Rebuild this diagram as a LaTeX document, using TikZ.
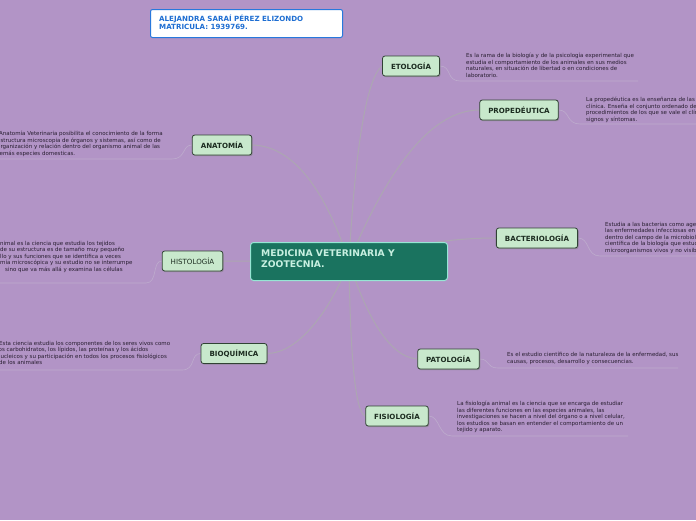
\documentclass[tikz,border=0pt]{standalone}
\usepackage{fontspec}
\setmainfont{DejaVu Sans}
\usetikzlibrary{shadows}
\pgfdeclarelayer{bglayer}
\pgfdeclarelayer{connlayer}
\pgfsetlayers{bglayer,connlayer,main}
\definecolor{bgc}{RGB}{178,148,198}
\definecolor{subfill}{RGB}{200,232,204}
\definecolor{subdraw}{RGB}{48,66,52}
\definecolor{subtext}{RGB}{28,44,32}
\definecolor{cenfill}{RGB}{26,115,95}
\definecolor{cendraw}{RGB}{150,230,212}
\definecolor{centext}{RGB}{200,240,225}
\definecolor{titdraw}{RGB}{40,120,220}
\definecolor{tittext}{RGB}{30,110,210}
\definecolor{desctext}{RGB}{40,30,48}
\definecolor{conncol}{RGB}{172,166,178}
\definecolor{ulcol}{RGB}{190,172,205}
\begin{document}
\begin{tikzpicture}[x=1pt,y=-1pt,
  sub/.style={draw=subdraw, fill=subfill, line width=0.8pt, rounded corners=2.5pt,
    text=subtext, font=\fontsize{7.1}{8}\selectfont\bfseries, inner xsep=8.5pt,
    minimum height=20pt, inner ysep=0pt,
    drop shadow={opacity=0.55, shadow xshift=1pt, shadow yshift=-1.2pt}},
  desc/.style={font=\fontsize{5.5}{6.5}\selectfont, align=left, anchor=north west,
    inner sep=0pt, text=desctext},
  conn/.style={draw=conncol, line width=1pt},
  uline/.style={draw=ulcol, line width=0.6pt}]
\begin{pgfonlayer}{bglayer}
\fill[bgc] (0,0) rectangle (696,520);
\end{pgfonlayer}
\useasboundingbox (0,0) rectangle (696,520);
\clip (0,0) rectangle (696,520);

% title
\node[draw=titdraw, fill=white, line width=1pt, rounded corners=2pt,
  minimum width=192pt, minimum height=28pt, anchor=north west, inner sep=0pt] (title) at (150,9) {};
\node[anchor=north west, inner sep=0pt, align=left, text=tittext,
  font=\fontsize{7.1}{8.2}\selectfont\bfseries] (titletext) at (159,14.5)
  {ALEJANDRA SARAÍ PÉREZ ELIZONDO\\MATRICULA: 1939769.};

% central
\node[draw=cendraw, fill=cenfill, line width=1pt, rounded corners=3pt,
  minimum width=197pt, minimum height=38pt, anchor=north west, inner sep=0pt] (center) at (250,242) {};
\node[anchor=north west, inner sep=0pt, align=left, text=centext,
  font=\fontsize{9.2}{11.8}\selectfont\bfseries] (centertext) at (261,249)
  {MEDICINA VETERINARIA Y\\ZOOTECNIA.};

% subtopics
\node[sub] (eto) at (411,66) {ETOLOGÍA};
\node[sub] (prop) at (519,110) {PROPEDÉUTICA};
\node[sub] (anat) at (222,145) {ANATOMÍA};
\node[sub, font=\fontsize{7.1}{8}\selectfont] (hist) at (192.5,261) {HISTOLOGÍA};
\node[sub] (bact) at (537,238) {BACTERIOLOGÍA};
\node[sub] (bioq) at (234,353.5) {BIOQUÍMICA};
\node[sub] (pato) at (448.5,359) {PATOLOGÍA};
\node[sub] (fisi) at (397,416) {FISIOLOGÍA};

% descriptions
\node[desc] (etod) at (466,53) {Es la rama de la biología y de la psicología experimental que\\
estudia el comportamiento de los animales en sus medios\\
naturales, en situación de libertad o en condiciones de\\
laboratorio.};
\node[desc] (propd) at (586,97) {La propedéutica es la enseñanza de las maniobras\\
clínica. Enseña el conjunto ordenado de métodos y\\
procedimientos de los que se vale el clínico para\\
signos y síntomas.};
\node[desc] (anatd) at (-1,131) {Anatomía Veterinaria posibilita el conocimiento de la forma\\
\hspace*{-2pt}estructura microscopia de órganos y sistemas, así como de\\
\hspace*{-2pt}organización y relación dentro del organismo animal de las\\
\hspace*{-3pt}demás especies domesticas.};
\node[desc] (histd) at (0,241) {nimal es la ciencia que estudia los tejidos\\
de su estructura es de tamaño muy pequeño\\
llo y sus funciones que se identifica a veces\\
mía microscópica y su estudio no se interrumpe\\
\hspace*{5pt}sino que va más allá y examina las células};
\node[desc] (bactd) at (605,222) {Estudia a las bacterias como agentes\\
las enfermedades infecciosas en\\
dentro del campo de la microbiología\\
científica de la biología que estudia\\
microorganismos vivos y no visibles};
\node[desc] (bioqd) at (-1,341) {Esta ciencia estudia los componentes de los seres vivos como\\
\hspace*{-2pt}los carbohidratos, los lípidos, las proteínas y los ácidos\\
\hspace*{-2pt}nucleicos y su participación en todos los procesos fisiológicos\\
de los animales};
\node[desc] (patod) at (507,352) {Es el estudio científico de la naturaleza de la enfermedad, sus\\
causas, procesos, desarrollo y consecuencias.};
\node[desc] (fisid) at (457,401) {La fisiología animal es la ciencia que se encarga de estudiar\\
las diferentes funciones en las especies animales, las\\
investigaciones se hacen a nivel del órgano o a nivel celular,\\
los estudios se basan en entender el comportamiento de un\\
tejido y aparato.};

% underline coordinates
\coordinate (etou1) at (460,81); \coordinate (etou2) at (638,81);
\coordinate (propu1) at (580,124); \coordinate (propu2) at (696,124);
\coordinate (anatu1) at (172,159); \coordinate (anatu2) at (0,159);
\coordinate (histu1) at (146,283); \coordinate (histu2) at (0,283);
\coordinate (bactu1) at (600,256); \coordinate (bactu2) at (696,256);
\coordinate (bioqu1) at (182,370); \coordinate (bioqu2) at (0,370);
\coordinate (patou1) at (498,368); \coordinate (patou2) at (678,368);
\coordinate (fisiu1) at (452,436); \coordinate (fisiu2) at (628,436);

\begin{pgfonlayer}{connlayer}
\draw[conn] (center.center) .. controls (354,170) and (364,80) .. (eto.west);
\draw[conn] (center.center) .. controls (375,200) and (420,110) .. (prop.west);
\draw[conn] (center.center) .. controls (330,205) and (300,146) .. (anat.east);
\draw[conn] (center.center) -- (hist.east);
\draw[conn] (center.center) .. controls (420,240) and (470,238) .. (bact.west);
\draw[conn] (center.center) .. controls (330,312) and (298,353) .. (bioq.east);
\draw[conn] (center.center) .. controls (365,312) and (388,357) .. (pato.west);
\draw[conn] (center.center) .. controls (350,330) and (353,412) .. (fisi.west);

\draw[uline] (eto.east) .. controls (452,66) and (446,81) .. (etou1) -- (etou2);
\draw[uline] (prop.east) .. controls (570,110) and (566,124) .. (propu1) -- (propu2);
\draw[uline] (anat.west) .. controls (182,145) and (186,159) .. (anatu1) -- (anatu2);
\draw[uline] (hist.west) .. controls (152,261) and (158,283) .. (histu1) -- (histu2);
\draw[uline] (bact.east) .. controls (590,238) and (586,256) .. (bactu1) -- (bactu2);
\draw[uline] (bioq.west) .. controls (190,353.5) and (196,370) .. (bioqu1) -- (bioqu2);
\draw[uline] (pato.east) .. controls (490,359) and (486,368) .. (patou1) -- (patou2);
\draw[uline] (fisi.east) .. controls (440,416) and (438,436) .. (fisiu1) -- (fisiu2);
\end{pgfonlayer}
\end{tikzpicture}
\end{document}
